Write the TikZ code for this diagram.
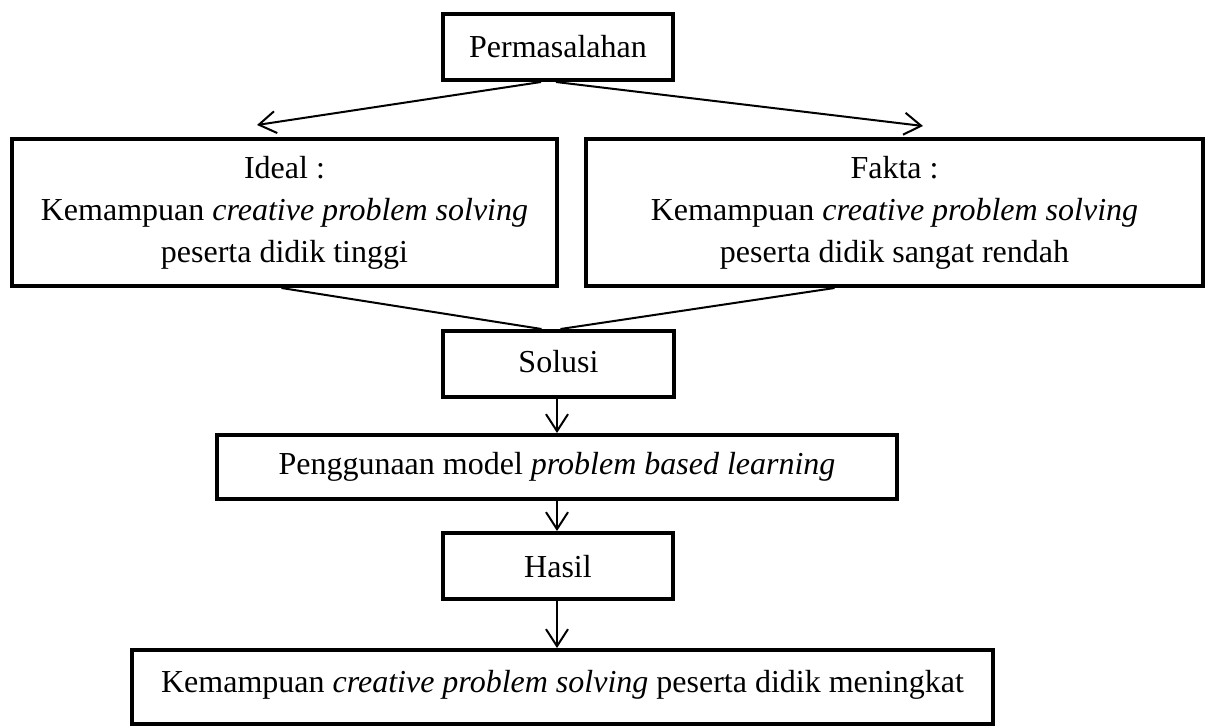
\documentclass[tikz,border=0pt]{standalone}
\usepackage{fontspec}
\setmainfont{Liberation Serif}
\usetikzlibrary{arrows.meta}
\begin{document}
\begin{tikzpicture}[x=1pt,y=-1pt,
  box/.style={draw, line width=4pt, inner sep=0pt, align=center,
    font=\fontsize{32}{42}\selectfont},
  conn/.style={line width=2pt},
  arr/.style={line width=2pt, -{Straight Barb[length=17pt,width=22pt]}}]
\useasboundingbox (0,0) rectangle (1208,726);

\node[box, minimum width=230pt, text height=43pt, text depth=23pt, anchor=north] (perm) at (558,12) {Permasalahan};

\node[box, minimum width=545pt, minimum height=147pt] (ideal) at (284.5,212.5)
  {Ideal :\\Kemampuan \textit{creative problem solving}\\peserta didik tinggi};
\node[box, minimum width=617pt, minimum height=147pt] (fakta) at (894.5,212.5)
  {Fakta :\\Kemampuan \textit{creative problem solving}\\peserta didik sangat rendah};

\node[box, minimum width=231pt, text height=41pt, text depth=25pt, anchor=north] (solusi) at (558.5,329) {Solusi};

\node[box, minimum width=680pt, text height=39pt, text depth=25pt, anchor=north] (peng) at (557,433)
  {Penggunaan model \textit{problem based learning}};

\node[box, minimum width=230pt, text height=44pt, text depth=22pt, anchor=north] (hasil) at (558,531) {Hasil};

\node[box, minimum width=861pt, text height=42pt, text depth=32pt, anchor=north] (final) at (562.5,648)
  {Kemampuan \textit{creative problem solving} peserta didik meningkat};

\draw[arr] ([xshift=-17pt]perm.south) -- ([xshift=-27.5pt,yshift=12pt]ideal.north);
\draw[arr] ([xshift=-2pt]perm.south) -- ([xshift=28.5pt,yshift=11pt]fakta.north);

\draw[conn] ([xshift=-3pt]ideal.south) -- ([xshift=-17pt]solusi.north);
\draw[conn] ([xshift=-60pt]fakta.south) -- ([xshift=2pt]solusi.north);

\draw[arr] ([xshift=-1.5pt]solusi.south) -- ([xshift=-1.5pt]solusi.south |- peng.north);
\draw[arr] (peng.south) -- (peng.south |- hasil.north);
\draw[arr] ([xshift=-1pt]hasil.south) -- ([xshift=-1pt]hasil.south |- final.north);
\end{tikzpicture}
\end{document}
